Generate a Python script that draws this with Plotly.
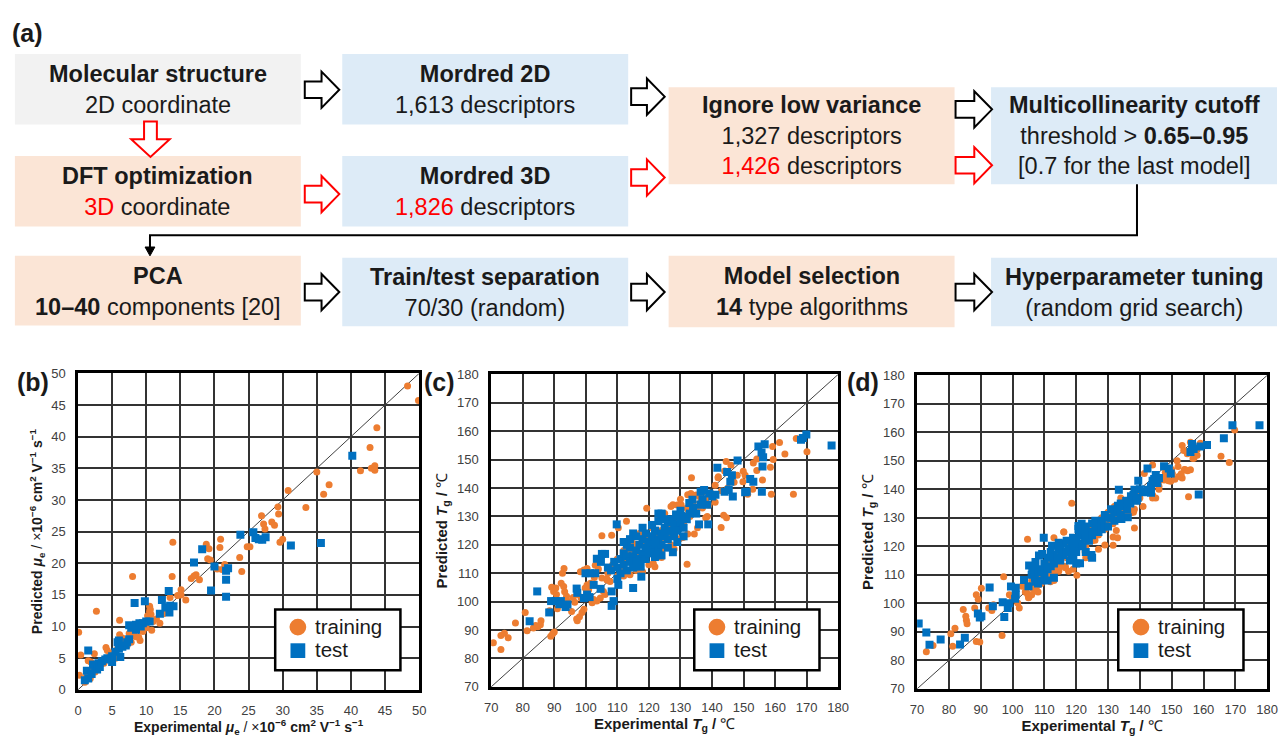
import plotly.graph_objects as go

W, H = 1288, 737
FONT = "Liberation Sans, Arial, sans-serif"
ORANGE = "#ED7D31"
BLUE = "#0070C0"
RED = "#FF0000"
GRAY_BOX = "#F2F2F2"
BLUE_BOX = "#DDEBF7"
PEACH_BOX = "#FBE5D6"

# ---------------- data ----------------
b_train = [(0.1,9.1),(0.2,2.3),(0.4,5.5),(1.2,2.0),(1.8,1.8),(1.5,4.6),(1.9,4.4),(2.4,5.7),(2.7,12.4),(2.2,3.5),
           (3.0,3.8),(3.5,4.5),(4.1,6.7),(4.3,6.2),(4.7,5.5),(5.0,5.8),(5.5,5.0),(6.1,11.0),(6.1,8.7),(6.5,8.2),
           (6.3,7.0),(7.0,7.8),(7.2,7.0),(7.8,7.5),(8.0,17.9),(8.5,8.4),(8.9,8.3),(9.1,7.8),(9.5,9.2),(10.2,11.7),
           (10.5,12.4),(10.7,11.9),(10.5,13.2),(10.6,12.7),(10.8,9.4),(10.0,9.8),(11.0,10.8),(11.5,11.2),(12.0,10.5),
           (13.5,14.6),(13.8,17.9),(13.9,23.3),(15.1,15.8),(15.1,15.0),(15.8,14.2),(16.6,17.6),(17.0,18.0),(17.3,18.2),
           (17.8,17.4),(18.8,23.0),(19.2,22.3),(19.0,20.7),(19.4,20.5),(20.4,19.1),(20.8,22.5),(20.9,23.8),(21.1,19.0),
           (21.5,19.8),(23.7,20.9),(24.0,18.7),(24.8,22.6),(25.2,22.6),(26.9,27.5),(27.2,26.2),(27.4,25.4),(28.4,26.5),
           (28.8,26.0),(29.3,28.9),(29.4,27.8),(29.6,23.3),(30.0,23.8),(30.8,31.5),(33.4,28.8),(35.0,34.4),(36.0,30.9),
           (36.8,32.4),(41.4,34.6),(42.8,38.3),(43.0,35.0),(43.5,35.4),(43.5,34.7),(43.8,41.4),(48.3,48.0),(49.9,45.7),
           (1.0,1.2),(2.5,2.8),(3.8,4.2),(5.8,6.5),(8.2,9.0),(9.8,10.3),(12.5,12.0),(14.6,14.9),(7.5,8.9)]
b_test = [(1.5,6.2),(1.3,3.0),(1.0,1.5),(1.5,1.8),(2.0,2.5),(2.2,4.0),(2.5,3.5),(2.8,3.2),(3.0,4.2),(3.2,3.6),
          (3.5,4.5),(4.0,4.8),(4.3,5.0),(5.0,4.4),(5.0,5.3),(5.5,6.0),(5.8,7.5),(6.0,7.8),(6.0,6.5),(6.2,5.2),
          (6.5,6.8),(7.0,7.0),(7.2,7.5),(7.5,8.0),(7.5,10.2),(7.8,9.8),(8.0,10.0),(8.3,13.7),(8.5,9.5),(8.5,10.3),
          (9.0,10.5),(9.2,10.0),(9.5,10.5),(9.8,14.0),(10.0,10.8),(10.5,10.8),(12.0,12.0),(12.3,14.2),(12.8,13.0),
          (13.3,15.6),(13.4,12.2),(13.5,13.3),(14.0,13.2),(17.0,20.1),(18.2,22.2),(19.5,15.7),(20.0,19.5),(21.7,18.8),
          (21.7,17.4),(21.7,14.7),(22.0,19.2),(23.8,24.5),(25.7,24.9),(26.0,24.0),(26.5,23.8),(27.0,23.7),(27.5,24.1),
          (31.2,22.8),(35.6,23.2),(40.2,37.0)]

c_train = [(70.7,85.5),(73.1,83.2),(73.1,88.1),(74.2,88.9),(75.4,87.3),(77.7,92.5),(80.8,96.2),(81.4,89.8),(83.4,90.7),
           (84.8,91.2),(85.8,93.3),(85.6,91.9),(84.1,91.6),(88.9,87.8),(90.0,89.3),(89.5,88.7),(89.2,105.1),(90.5,104.8),
           (89.8,103.6),(90.7,102.5),(93.1,111.7),(92.6,110.0),(92.2,106.5),(93.0,105.3),(93.9,101.9),(94.2,100.2),
           (93.3,103.5),(97.3,93.3),(97.1,93.9),(98.0,94.7),(98.8,96.2),(99.4,97.3),(97.5,102.5),(98.5,101.3),
           (100.4,105.9),(99.8,104.8),(100.9,104.2),(98.3,110.5),(99.4,111.1),(100.4,111.7),(102.0,99.6),(103.5,100.2),
           (102.5,100.8),(104.6,101.3),(106.1,102.5),(105.6,103.6),(105.1,123.2),(108.2,123.4),(106.7,107.6),(107.7,107.1),
           (110.3,126.0),(112.9,128.3),(105.1,108.3),(106.7,108.0),(104.0,111.5),(103.0,112.8),(101.5,106.5),(102.7,108.5),
           (96.5,99.8),(95.5,96.5),(91.0,97.5),(88.5,96.8),(96.0,101.5),
           (133.5,143.6),(144.5,149.3),(141.9,143.6),(144.6,129.5),(143.7,130.4),(142.9,126.1),(132.1,113.2),(149.9,145.9),
           (150.5,144.5),(149.8,142.2),(154.2,150.2),(153.1,148.8),(154.2,146.2),(159.2,154.6),(161.4,156.0),(163.1,152.0),
           (159.4,150.0),(158.5,147.3),(156.0,142.8),(152.9,139.6),(151.3,137.8),(158.8,137.8),(165.8,137.8),(166.7,157.4),
           (170.1,152.8),(132.3,137.6),(133.3,138.1),(130.2,134.1),(127.6,134.1),(128.1,129.5),(132.3,123.8),(130.8,122.6),
           (124.0,118.0),(121.9,112.3),(121.4,113.4),(138.5,130.0),(138.0,129.5),(135.4,126.0),(134.4,123.8),(129.7,122.1),
           (110,115),(111,112),(112,118),(113,114),(114,117),(115,113),(116,120),(117,116),(118,121),(119,118),(120,122),
           (121,119),(122,124),(123,121),(124,125),(125,122),(126,127),(127,124),(128,129),(129,126),(130,131),(131,128),
           (132,133),(133,130),(134,135),(135,132),(136,137),(137,133),(138,136),(139,134),(140,138),(141,135),
           (119.3,132.9),(114,109.5),(116,111),(118,110.5),(120,113),(123,117),(125,119),(127,120),(128,118.5),(124,115.5),
           (131,127),(108.5,113),(110,109),(107,110),(112,109),(115,120.5),(117,124),(121,126),(123,130),(125,131),
           (127,133.5),(129,134),(130,136),(135,137.5),(142,144),(144,146),(146,148),(145,140),(147,142),(148,144.5),
           (143,139),(141,141),(139,137.5)]
c_test = [(84.6,103.6),(82.2,93.1),(88.4,96.2),(89.0,100.2),(90.5,100.2),(92.1,100.2),(91.6,99.1),(93.6,98.1),(94.2,99.0),
          (97.1,104.6),(97.3,103.1),(99.4,101.3),(100.4,102.5),(101.2,101.6),(99.9,110.0),(101.4,110.0),(103.0,110.0),
          (102.5,105.9),(104.7,104.5),(103.5,115.1),(105.1,116.8),(106.1,116.8),(104.8,114.0),(108.2,103.6),(108.2,98.5),
          (108.8,100.2),(109.8,127.2),(110.3,105.9),(115.0,104.8),(117.6,108.8),(117.4,112.3),
          (177.9,155.0),(168.2,157.0),(169.9,158.8),(168.8,157.6),(154.7,154.6),(156.7,155.4),(155.7,152.5),(156.2,150.8),
          (156.0,147.6),(155.8,138.7),(148.1,149.7),(141.7,147.1),(144.8,145.6),(146.3,144.5),(145.8,142.2),(145.3,139.3),
          (146.6,137.0),(144.0,138.7),(152.1,143.2),(153.1,142.2),(151.0,138.7),(150.5,138.5),(135.9,127.2),(138.8,127.2),
          (136.4,138.7),(137.5,139.3),(139.1,138.1),(140.1,137.0),(141.1,137.6),(138.5,134.1),(136.4,134.1),(133.8,135.9),
          (132.8,134.7),(130.2,129.5),(128.6,130.7),(127.6,128.3),(129.2,126.0),(126.1,124.9),(124.0,130.7),(123.0,128.3),
          (121.9,124.9),(120.9,122.6),(119.8,120.3),(120.3,118.0),(121.9,115.7),(124.0,116.3),(127.6,117.4),
          (110,112),(111,115),(112,113),(112,117),(113,111),(113,116),(114,114),(114,119),(115,112),(115,116),(116,118),
          (116,114),(117,115),(117,120),(118,117),(118,122),(119,119),(119,115),(120,121),(120,117),(121,118),(121,123),
          (122,120),(122,125),(123,122),(123,118),(124,124),(124,120),(125,126),(125,123),(126,122),(126,128),(127,125),
          (127,129),(128,127),(128,123),(129,130),(129,125),(130,128),(130,132),(131,126),(131,130),(132,129),(133,131),
          (134,133),(135,131),(137,136),(109,114),(108,111),(107,112),(110,108),(111,110),(114,122),(115,124),(116,123),
          (118,126),(119,124),(121,127),(123,131),(124,131),(125,129),(126,119),(129,121),(131,123),(122,116),(122,121),
          (113,120),(112,121)]

d_train = [(72.9,83.0),(75.0,85.2),(80.6,89.3),(81.2,84.9),(81.9,91.3),(84.5,97.8),(85.5,94.1),(85.7,92.8),(85.3,95.5),
           (88.6,103.0),(89.2,101.4),(90.2,105.3),(88.1,98.4),(88.6,86.6),(89.7,86.4),(92.5,98.4),(93.5,97.5),(94.0,99.5),
           (96.7,88.7),(97.2,109.3),(99.0,103.0),(100.0,101.9),(101.6,100.1),(102.1,98.4),(104.7,122.5),(103.2,106.2),
           (104.2,104.1),(105.2,102.2),(104.7,103.3),(107.7,104.3),(106.2,105.3),(108.2,106.5),(113.0,123.0),(116.1,125.0),
           (118.6,135.1),(120.2,109.9),(111.9,107.6),(114.5,111.6),(116.6,112.8),
           (169.8,160.8),(165.5,151.6),(168.1,149.4),(155.3,137.4),(151.7,150.0),(155.9,146.9),(154.3,146.9),(153.3,144.0),
           (152.2,144.5),(149.7,142.8),(148.6,144.5),(150.2,145.6),(153.3,155.4),(153.8,153.6),(154.9,152.5),(155.9,156.5),
           (159.0,156.2),(156.7,150.8),(144.0,148.5),(141.4,145.6),(139.8,139.3),(139.3,135.9),(138.3,133.0),(146.0,141.1),
           (147.6,143.3),(144.0,137.0),(138.3,126.4),(131.6,133.0),(131.6,127.9),(132.6,125.6),(131.6,123.3),(131.6,120.4),
           (132.6,134.2),(116.1,125.0),(117.6,111.3),(116.6,112.5),(114.5,111.3),(122.8,118.1),(125.9,122.1),(137.3,131.9),
           (104,104),(105,102),(106,103),(107,104.5),(108,104),(109,107),(110,108),(111,109),(112,110),(113,111),(114,113),
           (115,114),(116,113),(117,116),(118,117),(119,116),(120,119),(121,120),(122,121),(123,120),(124,123),(125,122),
           (126,125),(127,124),(128,127),(129,126),(130,129),(131,128),(132,131),(133,130),(134,131),(135,133),(136,134),
           (137,135),(138,136),(140,137),(142,139),(143,140),(145,142),(146,143),(147,144),(148,146),(150,147),(152,148),
           (154,147),(156,153),(157,151),(158,154),(110,112),(112,115),(114,117),(116,118),(118,120),(120,122),(122,124),
           (124,126),(126,128),(128,130),(130,132),(132,134),(108,110),(106,108),(103,106),(113,108),(119,112),(123,116),
           (127,119),(129,120.5),(133,123),(134,137),(136,131),(138,132),(141,134),(144,138),(145,137),(146,140),(149,143),
           (151,143.5),(153,145.5),(155,146.5),(155,153),(157,155),(158,152)]
d_test = [(70.5,92.9),(72.9,89.8),(73.9,85.5),(77.4,87.3),(83.5,85.6),(85.0,87.9),(89.1,96.4),(89.7,95.0),(90.2,95.5),
          (92.8,105.6),(93.8,99.0),(96.9,100.4),(97.4,95.2),(98.5,98.4),(99.5,105.9),(101.0,105.5),(100.8,101.6),
          (103.6,108.2),(105.2,113.3),(106.2,111.0),(107.2,114.5),(108.3,116.8),(109.3,117.3),(109.8,123.0),(107.2,107.6),
          (112.4,120.2),(114.5,121.3),(115.5,117.9),(117.6,119.1),(118.6,116.8),(120.2,120.2),(120.7,127.1),
          (177.6,162.5),(169.1,162.5),(166.4,157.9),(161.1,155.6),(159.0,155.0),(156.4,155.9),(155.9,153.1),(156.9,154.2),
          (158.5,138.2),(147.6,148.1),(149.1,147.3),(149.7,145.6),(142.4,147.3),(139.5,143.0),(144.5,143.6),(145.5,142.2),
          (143.5,141.1),(142.4,139.9),(143.5,138.8),(133.4,139.9),(138.3,139.9),(137.2,137.6),(139.3,137.0),(135.7,135.9),
          (134.7,134.7),(133.1,134.2),(132.1,131.9),(136.2,130.2),(134.2,129.6),(127.9,128.4),(126.9,126.1),(124.8,123.9),
          (122.8,122.7),(121.2,121.0),(120.7,126.1),(121.7,127.9),(118.6,121.6),(116.6,118.2),(114.5,119.3),(112.9,115.8),
          (124.8,117.0),(121.2,114.1),(119.1,115.8),
          (105,106),(106,110),(107,109),(108,111),(108,107),(109,112),(109,108),(110,110),(110,114),(111,112),(111,116),
          (112,113),(112,118),(113,114),(113,117),(114,116),(115,115),(115,119),(116,117),(116,121),(117,118),(117,122),
          (118,119),(118,115),(119,120),(119,123),(120,118),(120,122),(121,121),(121,124),(122,120),(122,125),(123,123),
          (123,127),(124,122),(124,125),(125,124),(125,128),(126,126),(126,129),(127,125),(127,128),(128,129),(128,126),
          (129,131),(129,127),(130,130),(130,127),(131,130),(131,133),(132,129),(132,132),(133,133),(134,131),(134,135),
          (135,134),(136,133),(136,136),(137,135),(138,138),(139,136),(140,140),(141,139),(144,143),(145,145),(146,144),
          (113,109),(111,108),(120,114),(123,118),(125,116),(101,103),(99,100),(107,113)]

series_names = ["training", "test"]
b_range = [0, 50]
tg_range = [70, 180]
b_ticks = list(range(0, 51, 5))
tg_ticks = list(range(70, 181, 10))

# ---------------- helpers ----------------
def X(p): return p / W
def Y(p): return 1 - p / H
def unzip(pts): return [p[0] for p in pts], [p[1] for p in pts]

fig = go.Figure()

panels = [
    ("", "", b_train, b_test, b_range),
    ("2", "2", c_train, c_test, tg_range),
    ("3", "3", d_train, d_test, tg_range),
]
for ax, ay, tr, te, rng in panels:
    xa, ya = "x" + ax, "y" + ay
    fig.add_trace(go.Scatter(x=rng, y=rng, mode="lines", line=dict(color="#404040", width=1),
                             xaxis=xa, yaxis=ya, showlegend=False, hoverinfo="skip"))
    tx, ty = unzip(tr)
    fig.add_trace(go.Scatter(x=tx, y=ty, mode="markers", xaxis=xa, yaxis=ya, showlegend=False,
                             name=series_names[0], marker=dict(symbol="circle", size=7, color=ORANGE)))
    sx, sy = unzip(te)
    fig.add_trace(go.Scatter(x=sx, y=sy, mode="markers", xaxis=xa, yaxis=ya, showlegend=False,
                             name=series_names[1], marker=dict(symbol="square", size=8, color=BLUE)))

# plot areas in pixels
areas = {
    "1": (72, 418, 374, 697),
    "2": (491, 843, 375, 694),
    "3": (923, 1278, 376, 696),
}
mu_unit = "/ ×<b>10<sup>−6</sup> cm<sup>2</sup> V<sup>−1</sup> s<sup>−1</sup></b>"
titles = {
    "1": ("<b>Experimental <i>μ</i><sub>e</sub></b> " + mu_unit, "<b>Predicted <i>μ</i><sub>e</sub></b> " + mu_unit, 14),
    "2": ("<b>Experimental <i>T</i><sub>g</sub> /</b> ℃", "<b>Predicted <i>T</i><sub>g</sub> /</b> ℃", 15),
    "3": ("<b>Experimental <i>T</i><sub>g</sub> /</b> ℃", "<b>Predicted <i>T</i><sub>g</sub> /</b> ℃", 15),
}
for k, (x0, x1, y0, y1) in areas.items():
    rng = b_range if k == "1" else tg_range
    ticks = b_ticks if k == "1" else tg_ticks
    xt, yt, tfs = titles[k]
    common = dict(range=rng, tickvals=ticks, showgrid=True, gridcolor="#333333", gridwidth=1.6,
                  showline=True, linecolor="black", linewidth=2.5, mirror=True, zeroline=False,
                  ticks="", tickfont=dict(family=FONT, size=13, color="#404040"), ticklabelstandoff=7,
                  fixedrange=True)
    xname = "xaxis" if k == "1" else "xaxis" + k
    yname = "yaxis" if k == "1" else "yaxis" + k
    anchor_y = "y" if k == "1" else "y" + k
    anchor_x = "x" if k == "1" else "x" + k
    fig.layout[xname] = dict(domain=[X(x0), X(x1)], anchor=anchor_y,
                             title=dict(text=xt, font=dict(family=FONT, size=tfs, color="#1a1a1a"), standoff=4),
                             **common)
    fig.layout[yname] = dict(domain=[Y(y1), Y(y0)], anchor=anchor_x,
                             title=dict(text=yt, font=dict(family=FONT, size=tfs, color="#1a1a1a"), standoff=6),
                             **common)

# ---------------- flowchart & legends ----------------
shapes = []
annotations = []

def pathstr(pts, close=True):
    s = "M " + " L ".join(f"{X(a):.5f},{Y(b):.5f}" for a, b in pts)
    return s + (" Z" if close else "")

def box(x0, x1, y0, y1, color):
    shapes.append(dict(type="rect", xref="paper", yref="paper", x0=X(x0), x1=X(x1), y0=Y(y1), y1=Y(y0),
                       fillcolor=color, line=dict(width=0), layer="below"))

def text(xc, yc, s, size=23.5):
    annotations.append(dict(xref="paper", yref="paper", x=X(xc), y=Y(yc), text=s, showarrow=False,
                            font=dict(family=FONT, size=size, color="#1a1a1a"), xanchor="center",
                            yanchor="middle", align="center"))

def rarrow(x0, x1, yc, color):
    s, hh, head = 8.5, 18.5, 18
    xh = x1 - head
    pts = [(x0, yc - s), (xh, yc - s), (xh, yc - hh), (x1, yc), (xh, yc + hh), (xh, yc + s), (x0, yc + s)]
    shapes.append(dict(type="path", xref="paper", yref="paper", path=pathstr(pts), fillcolor="white",
                       line=dict(color=color, width=2)))

def darrow(xc, y0, y1, color):
    s, hw, head = 6.5, 19.5, 18
    yh = y1 - head
    pts = [(xc - s, y0), (xc - s, yh), (xc - hw, yh), (xc, y1), (xc + hw, yh), (xc + s, yh), (xc + s, y0)]
    shapes.append(dict(type="path", xref="paper", yref="paper", path=pathstr(pts), fillcolor="white",
                       line=dict(color=color, width=2)))

def legend_box(x0):
    y0, y1 = 615, 677
    shapes.append(dict(type="rect", xref="paper", yref="paper", x0=X(x0), x1=X(x0 + 127), y0=Y(y1), y1=Y(y0),
                       fillcolor="white", line=dict(color="black", width=2.5)))
    cx = x0 + 23
    shapes.append(dict(type="circle", xref="paper", yref="paper", x0=X(cx - 8.5), x1=X(cx + 8.5),
                       y0=Y(633 + 8.5), y1=Y(633 - 8.5), fillcolor=ORANGE, line=dict(width=0)))
    shapes.append(dict(type="rect", xref="paper", yref="paper", x0=X(cx - 7.5), x1=X(cx + 7.5),
                       y0=Y(657 + 7.5), y1=Y(657 - 7.5), fillcolor=BLUE, line=dict(width=0)))
    for name, yc in zip(series_names, (632, 656)):
        annotations.append(dict(xref="paper", yref="paper", x=X(x0 + 38), y=Y(yc), text=name, showarrow=False,
                                xanchor="left", yanchor="middle",
                                font=dict(family=FONT, size=20.5, color="#1a1a1a")))

box(8, 298, 48, 120, GRAY_BOX)
box(340, 630, 48, 120, BLUE_BOX)
box(8, 298, 152, 224, PEACH_BOX)
box(340, 630, 152, 224, BLUE_BOX)
box(671, 961, 82, 181, PEACH_BOX)
box(998, 1288, 82, 181, BLUE_BOX)
box(8, 298, 254, 325, PEACH_BOX)
box(340, 630, 256, 326, BLUE_BOX)
box(671, 961, 254, 327, PEACH_BOX)
box(998, 1288, 256, 326, BLUE_BOX)

R = lambda s: f"<span style='color:{RED}'>{s}</span>"
text(153, 84, "<b>Molecular structure</b><br>2D coordinate")
text(485, 84, "<b>Mordred 2D</b><br>1,613 descriptors")
text(153, 188, "<b>DFT optimization</b><br>" + R("3D") + " coordinate")
text(485, 188, "<b>Mordred 3D</b><br>" + R("1,826") + " descriptors")
text(816, 131, "<b>Ignore low variance</b><br>1,327 descriptors<br>" + R("1,426") + " descriptors")
text(1143, 131, "<b>Multicollinearity cutoff</b><br>threshold &gt; <b>0.65–0.95</b><br>[0.7 for the last model]")
text(153, 290, "<b>PCA</b><br><b>10–40</b> components [20]")
text(485, 291, "<b>Train/test separation</b><br>70/30 (random)")
text(816, 290, "<b>Model selection</b><br><b>14</b> type algorithms")
text(1143, 291, "<b>Hyperparameter tuning</b><br>(random grid search)")

rarrow(302, 337, 84.5, "black")
rarrow(633, 667, 91.5, "black")
rarrow(302, 337, 191, RED)
rarrow(633, 667, 174, RED)
rarrow(962, 999, 104.5, "black")
rarrow(962, 999, 161.5, RED)
rarrow(302, 337, 291, "black")
rarrow(633, 667, 291, "black")
rarrow(962, 999, 291, "black")
darrow(145.5, 117, 153, RED)

# connector
shapes.append(dict(type="path", xref="paper", yref="paper",
                   path=pathstr([(1146, 181), (1146, 233), (145, 233), (145, 247)], close=False),
                   line=dict(color="black", width=2)))
shapes.append(dict(type="path", xref="paper", yref="paper",
                   path=pathstr([(140, 245), (150, 245), (145, 254)]),
                   fillcolor="black", line=dict(color="black", width=1)))

for lx in (272, 697, 1127):
    legend_box(lx)

# panel labels
for lab, xc, yc in [("(a)", 21, 27), ("(b)", 26, 383), ("(c)", 439, 383), ("(d)", 868, 383)]:
    annotations.append(dict(xref="paper", yref="paper", x=X(xc), y=Y(yc), text=f"<b>{lab}</b>",
                            showarrow=False, xanchor="center", yanchor="middle",
                            font=dict(family=FONT, size=25, color="#1a1a1a")))

fig.update_layout(
    width=W, height=H, margin=dict(l=0, r=0, t=0, b=0),
    paper_bgcolor="white", plot_bgcolor="white", showlegend=False,
    shapes=shapes, annotations=annotations,
    font=dict(family=FONT),
)

fig.write_html("out.html", config={"displayModeBar": False},
               post_script="document.body.style.margin='0';document.body.style.overflow='hidden';")
